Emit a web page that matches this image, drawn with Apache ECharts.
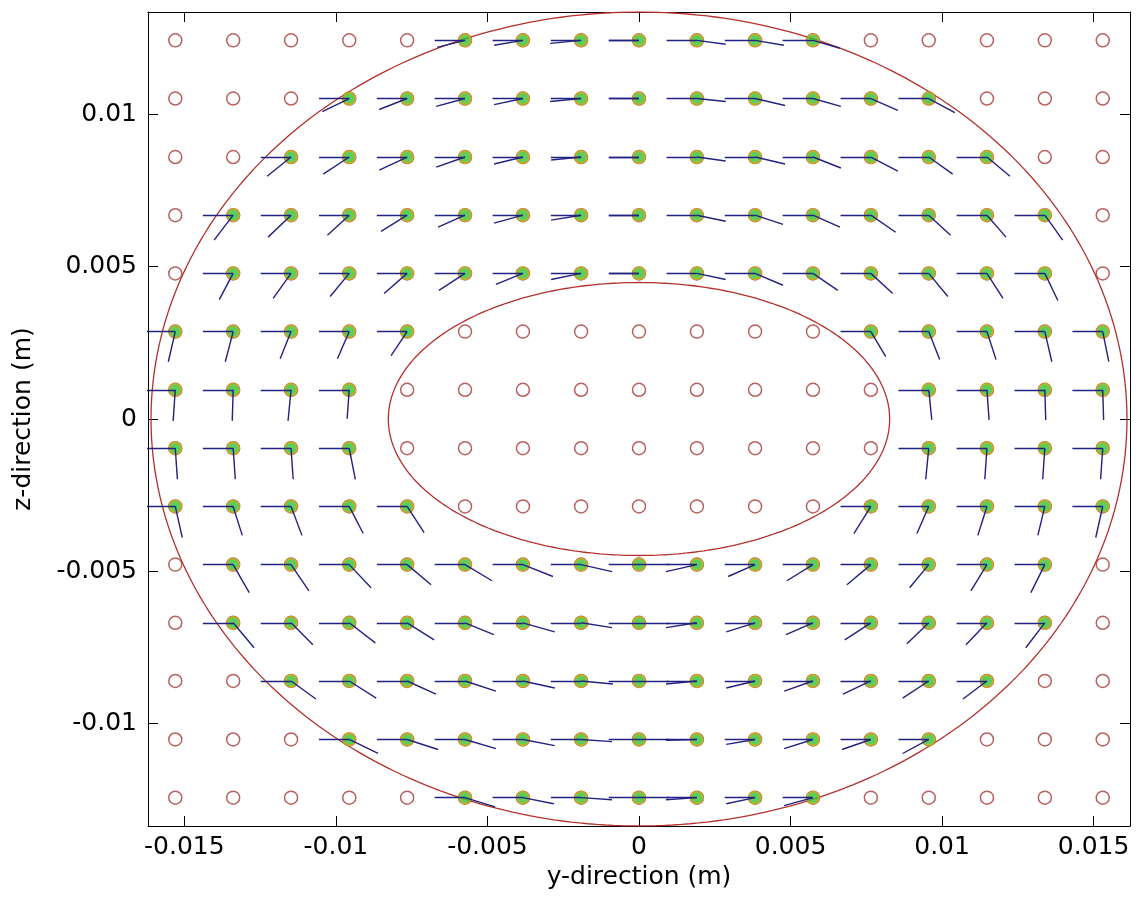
<!DOCTYPE html>
<html>
<head>
<meta charset="utf-8">
<script src="https://cdn.jsdelivr.net/npm/echarts@6/dist/echarts.min.js"></script>
<style>
  html, body { margin: 0; padding: 0; background: #fff; }
  #chart { width: 1138px; height: 903px; }
</style>
</head>
<body>
<div id="chart"></div>
<script>
// Sample grid (m): 17 positions across y, 14 positions down z (top row first)
const yPos = [-0.0153, -0.01339, -0.01148, -0.00956, -0.00765, -0.00574, -0.00383, -0.00191, 0,
              0.00191, 0.00383, 0.00574, 0.00765, 0.00956, 0.01148, 0.01339, 0.0153];
const zPos = [0.01243, 0.01052, 0.0086, 0.00669, 0.00478, 0.00287, 0.00096,
              -0.00096, -0.00287, -0.00478, -0.00669, -0.0086, -0.01052, -0.01243];

// Axis ticks
const yTicks = [-0.015, -0.01, -0.005, 0, 0.005, 0.01, 0.015];
const zTicks = [-0.01, -0.005, 0, 0.005, 0.01];
const yRange = [-0.0162, 0.0162];
const zRange = [-0.01336, 0.01336];

// Boundaries (semi-axes, m)
const outerBoundary = { a: 0.0161, b: 0.01336 };
const innerBoundary = { a: 0.00827, b: 0.00448 };

// Incident direction (mm), arriving along +y
const incident = [1.0, 0];

// Outgoing vector [dy, dz] in mm at each grid node; null = no vector at that node
const _ = null;
const outRows = [
  [_, _, _, _, _, [-0.92,-0.23], [-0.95,-0.16], [-1.02,-0.10], [-0.99,0], [0.95,-0.13], [0.95,-0.16], [0.89,-0.26], _, _, _, _, _],
  [_, _, _, [-0.89,-0.43], [-0.92,-0.36], [-0.95,-0.26], [-0.95,-0.20], [-1.02,-0.10], [-0.99,0], [0.95,-0.10], [0.99,-0.23], [0.92,-0.26], [0.89,-0.39], [0.86,-0.46], _, _, _],
  [_, _, [-0.79,-0.63], [-0.86,-0.56], [-0.92,-0.43], [-0.95,-0.33], [-0.95,-0.23], [-0.99,-0.10], [-0.99,0], [0.95,-0.13], [0.99,-0.23], [0.92,-0.36], [0.89,-0.46], [0.79,-0.56], [0.76,-0.63], _, _],
  [_, [-0.63,-0.82], [-0.76,-0.72], [-0.72,-0.66], [-0.86,-0.53], [-0.89,-0.39], [-0.95,-0.26], [-0.99,-0.16], [-0.99,0], [0.95,-0.20], [0.92,-0.30], [0.89,-0.39], [0.82,-0.56], [0.72,-0.66], [0.63,-0.72], [0.59,-0.82], _],
  [_, [-0.46,-0.86], [-0.59,-0.82], [-0.63,-0.76], [-0.76,-0.66], [-0.86,-0.56], [-0.89,-0.36], [-0.99,-0.20], [-0.99,0], [0.95,-0.20], [0.92,-0.39], [0.82,-0.56], [0.72,-0.66], [0.63,-0.76], [0.53,-0.82], [0.43,-0.89], _],
  [[-0.23,-0.99], [-0.26,-0.99], [-0.36,-0.89], [-0.39,-0.89], [-0.53,-0.79], _, _, _, _, _, _, _, [0.49,-0.82], [0.36,-0.92], [0.30,-0.92], [0.23,-0.99], [0.20,-0.99]],
  [[-0.07,-1.02], [-0.03,-1.02], [-0.10,-1.02], [-0.07,-0.95], _, _, _, _, _, _, _, _, _, [0.10,-0.99], [0.07,-0.99], [0.03,-0.99], [0.03,-0.99]],
  [[0.07,-1.02], [0.07,-1.02], [0.07,-1.02], [0.20,-1.02], _, _, _, _, _, _, _, _, _, [-0.10,-1.02], [-0.07,-1.02], [-0.07,-1.02], [-0.07,-1.02]],
  [[0.23,-1.02], [0.30,-0.95], [0.36,-0.95], [0.46,-0.89], [0.56,-0.86], _, _, _, _, _, _, _, [-0.56,-0.89], [-0.39,-0.89], [-0.30,-0.95], [-0.23,-0.95], [-0.23,-1.02]],
  [_, [0.53,-0.92], [0.59,-0.86], [0.72,-0.76], [0.79,-0.66], [0.89,-0.53], [0.99,-0.39], [1.02,-0.23], [0.99,0], [-1.02,-0.23], [-0.89,-0.39], [-0.86,-0.53], [-0.79,-0.66], [-0.63,-0.76], [-0.53,-0.86], [-0.46,-0.92], _],
  [_, [0.69,-0.82], [0.72,-0.72], [0.86,-0.66], [0.89,-0.56], [0.95,-0.39], [1.05,-0.30], [1.02,-0.16], [0.99,0], [-1.02,-0.16], [-0.95,-0.30], [-0.89,-0.39], [-0.86,-0.56], [-0.72,-0.69], [-0.69,-0.72], [-0.63,-0.82], _],
  [_, _, [0.82,-0.59], [0.89,-0.56], [0.95,-0.43], [1.02,-0.33], [1.05,-0.23], [1.05,-0.10], [0.99,0], [-1.02,-0.10], [-0.95,-0.23], [-0.95,-0.33], [-0.92,-0.43], [-0.86,-0.56], [-0.79,-0.59], _, _],
  [_, _, _, [0.95,-0.46], [1.02,-0.33], [1.02,-0.30], [1.05,-0.20], [1.02,-0.07], [0.99,0], [-1.02,-0.03], [-0.95,-0.16], [-0.95,-0.30], [-0.95,-0.33], [-0.86,-0.46], _, _, _],
  [_, _, _, _, _, [0.99,-0.30], [1.02,-0.20], [1.02,-0.07], [0.99,0], [-1.02,-0.07], [-0.95,-0.20], [-0.95,-0.26], _, _, _, _, _]
];

const MM = 0.001;
const allNodes = [];
const activeNodes = [];
const incidentSegs = [];
const outgoingSegs = [];
zPos.forEach((z, r) => {
  yPos.forEach((y, c) => {
    allNodes.push([y, z]);
    const v = outRows[r][c];
    if (v) {
      activeNodes.push([y, z]);
      incidentSegs.push({ coords: [[y - incident[0] * MM, z - incident[1] * MM], [y, z]] });
      outgoingSegs.push({ coords: [[y, z], [y + v[0] * MM, z + v[1] * MM]] });
    }
  });
});

function ellipse(b) {
  const pts = [];
  for (let i = 0; i <= 360; i++) {
    const t = i * Math.PI / 180;
    pts.push([b.a * Math.cos(t), b.b * Math.sin(t)]);
  }
  return pts;
}

const FONT = 'DejaVu Sans, Liberation Sans, Arial, sans-serif';
const fmt = v => String(v);
const lineCol = '#000';
const tickStyle = { color: lineCol, width: 1 };

function frameAxis(extra) {
  return Object.assign({
    type: 'value',
    axisLine: { show: true, onZero: false, lineStyle: { color: lineCol, width: 1 } },
    axisLabel: { show: false },
    splitLine: { show: false }
  }, extra);
}

const chart = echarts.init(document.getElementById('chart'), null, { renderer: 'canvas' });
chart.setOption({
  animation: false,
  backgroundColor: '#ffffff',
  grid: { left: 148, right: 8, top: 12, bottom: 77, containLabel: false },
  xAxis: [
    frameAxis({
      min: yRange[0], max: yRange[1], position: 'bottom',
      name: 'y-direction (m)', nameLocation: 'middle', nameGap: 38,
      nameTextStyle: { fontFamily: FONT, fontSize: 25, color: '#000' },
      axisTick: { show: true, inside: true, length: 10, customValues: yTicks, lineStyle: tickStyle },
      axisLabel: { show: true, customValues: yTicks, formatter: fmt, margin: 9,
                   fontFamily: FONT, fontSize: 25, color: '#000' }
    }),
    frameAxis({
      min: yRange[0], max: yRange[1], position: 'top',
      axisTick: { show: true, inside: true, length: 10, customValues: yTicks, lineStyle: tickStyle }
    })
  ],
  yAxis: [
    frameAxis({
      min: zRange[0], max: zRange[1], position: 'left',
      name: 'z-direction (m)', nameLocation: 'middle', nameGap: 112, nameRotate: 90,
      nameTextStyle: { fontFamily: FONT, fontSize: 25, color: '#000' },
      axisTick: { show: true, inside: true, length: 10, customValues: zTicks, lineStyle: tickStyle },
      axisLabel: { show: true, customValues: zTicks, formatter: fmt, margin: 11,
                   fontFamily: FONT, fontSize: 25, color: '#000' }
    }),
    frameAxis({
      min: zRange[0], max: zRange[1], position: 'right',
      axisTick: { show: true, inside: true, length: 10, customValues: zTicks, lineStyle: tickStyle }
    })
  ],
  series: [
    {
      name: 'outer', type: 'line', data: ellipse(outerBoundary), showSymbol: false, silent: true,
      lineStyle: { color: '#b3302c', width: 1.3 }, z: 2
    },
    {
      name: 'inner', type: 'line', data: ellipse(innerBoundary), showSymbol: false, silent: true,
      lineStyle: { color: '#b3302c', width: 1.3 }, z: 2
    },
    {
      name: 'nodes', type: 'scatter', data: allNodes, symbol: 'circle', symbolSize: 13, silent: true,
      itemStyle: { color: 'rgba(0,0,0,0)', borderColor: '#a63a38', borderWidth: 1.5 }, z: 3
    },
    {
      name: 'active', type: 'scatter', data: activeNodes, symbol: 'circle', symbolSize: 12, silent: true,
      itemStyle: { color: '#34c234', borderColor: '#c9b418', borderWidth: 1.8 }, z: 4
    },
    {
      name: 'incident', type: 'lines', coordinateSystem: 'cartesian2d', data: incidentSegs, silent: true,
      lineStyle: { color: '#222280', width: 1.4, opacity: 1 }, z: 5
    },
    {
      name: 'outgoing', type: 'lines', coordinateSystem: 'cartesian2d', data: outgoingSegs, silent: true,
      lineStyle: { color: '#222280', width: 1.4, opacity: 1 }, z: 5
    }
  ]
});
</script>
</body>
</html>
